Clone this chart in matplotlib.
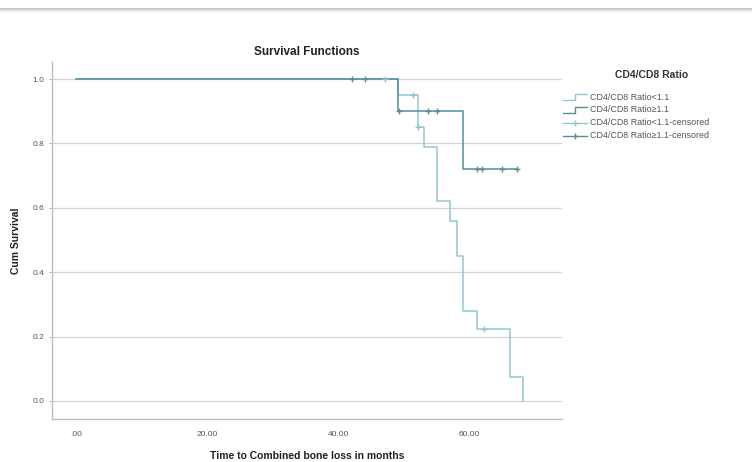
import matplotlib.pyplot as plt
from matplotlib.lines import Line2D

plt.rcParams['font.family'] = ['Liberation Sans', 'DejaVu Sans']

# Group CD4/CD8 Ratio<1.1 (light)
t_low = [0, 49.2, 52.2, 53.1, 55.1, 57.1, 58.2, 59.1, 61.2, 66.3, 68.2]
s_low = [1.0, 0.95, 0.85, 0.79, 0.62, 0.56, 0.45, 0.28, 0.225, 0.075, 0.0]
cens_low_t = [47.2, 51.5, 52.2, 62.3]
cens_low_s = [1.0, 0.95, 0.85, 0.225]

# Group CD4/CD8 Ratio>=1.1 (dark)
t_high = [0, 49.2, 59.1, 67.3]
s_high = [1.0, 0.90, 0.72, 0.72]
cens_high_t = [42.1, 44.1, 49.3, 53.7, 55.1, 61.2, 62.0, 65.0, 67.3]
cens_high_s = [1.0, 1.0, 0.90, 0.90, 0.90, 0.72, 0.72, 0.72, 0.72]

xticks = [0, 20, 40, 60]
xticklabels = ['.00', '20.00', '40.00', '60.00']
yticks = [0.0, 0.2, 0.4, 0.6, 0.8, 1.0]
yticklabels = ['0.0', '0.2', '0.4', '0.6', '0.8', '1.0']
legend_labels = ['CD4/CD8 Ratio<1.1', 'CD4/CD8 Ratio\u22651.1',
                 'CD4/CD8 Ratio<1.1-censored', 'CD4/CD8 Ratio\u22651.1-censored']

c_low = '#92c7d1'
c_high = '#578e98'

W, H = 752, 462
fig = plt.figure(figsize=(W / 100, H / 100), dpi=100)

def fx(px):
    return px / W

def fy(py):
    return 1 - py / H

ax = fig.add_axes([fx(52), fy(419), fx(562) - fx(52), fy(62) - fy(419)])
ax.set_xlim(-3.66, 74.2)
ax.set_ylim(-0.056, 1.053)

for y in yticks:
    ax.axhline(y, color='#d4d4d4', lw=0.9, zorder=0)

ax.step(t_low, s_low, where='post', color=c_low, lw=1.1)
ax.step(t_high, s_high, where='post', color=c_high, lw=1.1)
ax.plot(cens_low_t, cens_low_s, '+', color=c_low, ms=4, mew=1)
ax.plot(cens_high_t, cens_high_s, '+', color=c_high, ms=4, mew=1)

for s in ['top', 'right']:
    ax.spines[s].set_visible(False)
for s in ['left', 'bottom']:
    ax.spines[s].set_color('#bdbdbd')
    ax.spines[s].set_linewidth(1.0)

ax.set_xticks(xticks)
ax.set_xticklabels(xticklabels)
ax.set_yticks(yticks)
ax.set_yticklabels(yticklabels)
ax.tick_params(axis='both', labelsize=6, colors='#bdbdbd', labelcolor='#555555', length=2)
ax.tick_params(axis='x', length=0, pad=9)

ax.set_title('Survival Functions', fontsize=8.5, fontweight='bold', color='#222222', pad=5)
ax.set_xlabel('Time to Combined bone loss in months', fontsize=7.5, fontweight='bold', color='#222222', labelpad=9)
ax.set_ylabel('Cum Survival', fontsize=7.5, fontweight='bold', color='#222222', labelpad=8)

# top separator line
fig.add_artist(Line2D([0, 1], [fy(9), fy(9)], color='#c9c9c9', lw=1.5))
fig.add_artist(Line2D([0, 1], [fy(11), fy(11)], color='#ececec', lw=1.5))

# legend
fig.text(fx(652), fy(75), 'CD4/CD8 Ratio', fontsize=7.5, fontweight='bold', color='#333333', ha='center', va='center')
rows = [97, 110, 123, 136]
cols = [c_low, c_high, c_low, c_high]
for i, (row, col, lab) in enumerate(zip(rows, cols, legend_labels)):
    if i < 2:
        xs = [fx(563), fx(575), fx(575), fx(587)]
        ys = [fy(row + 3), fy(row + 3), fy(row - 3), fy(row - 3)]
        fig.add_artist(Line2D(xs, ys, color=col, lw=1))
    else:
        fig.add_artist(Line2D([fx(563), fx(587)], [fy(row), fy(row)], color=col, lw=1))
        fig.add_artist(Line2D([fx(575)], [fy(row)], marker='+', color=col, ms=5, mew=1))
    fig.text(fx(590), fy(row), lab, fontsize=6.4, color='#555555', ha='left', va='center')

fig.savefig('out.png', dpi=100)
